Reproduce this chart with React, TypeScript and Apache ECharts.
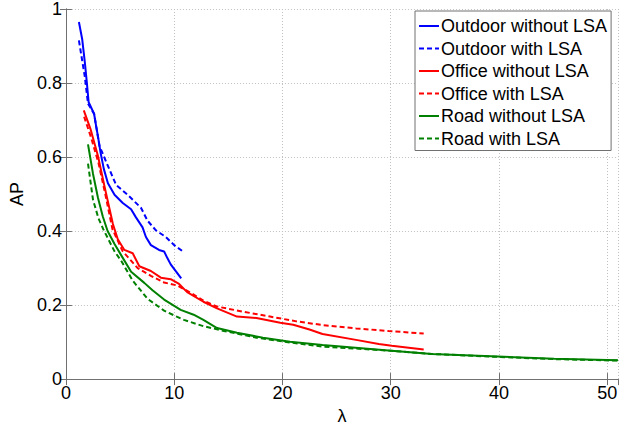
import React, { useEffect, useRef } from "react";
import * as echarts from "echarts";

const seriesNames = [
  "Outdoor without LSA",
  "Outdoor with LSA",
  "Office without LSA",
  "Office with LSA",
  "Road without LSA",
  "Road with LSA",
];

const outdoorWithout: [number, number][] = [
  [1.2, 0.965], [1.5, 0.919], [1.74, 0.858], [1.92, 0.805], [2.1, 0.748], [2.6, 0.717],
  [2.8, 0.682], [2.96, 0.656], [3.2, 0.612], [3.5, 0.568], [3.88, 0.529], [4.49, 0.498],
  [5.25, 0.476], [6.02, 0.459], [6.47, 0.437], [7.08, 0.41], [7.39, 0.384], [7.85, 0.362],
  [8.6, 0.349], [9.07, 0.345], [9.37, 0.327], [9.68, 0.31], [10.65, 0.272],
];

const outdoorWith: [number, number][] = [
  [1.2, 0.915], [1.74, 0.818], [2.04, 0.744], [2.6, 0.717], [3.1, 0.63], [3.73, 0.586],
  [4.65, 0.524], [5.7, 0.498], [6.93, 0.463], [7.54, 0.428], [8.31, 0.402], [9.23, 0.384],
  [10.0, 0.362], [10.8, 0.345],
];

const officeWithout: [number, number][] = [
  [1.65, 0.726], [2.29, 0.674], [2.96, 0.603], [3.57, 0.52], [4.34, 0.419], [4.79, 0.378],
  [5.4, 0.349], [6.17, 0.34], [6.78, 0.305], [7.85, 0.292], [8.77, 0.274], [9.68, 0.27],
  [10.45, 0.257], [11.2, 0.235], [12.7, 0.209], [13.96, 0.191], [15.8, 0.169], [17.6, 0.165],
  [19.8, 0.152], [21.0, 0.147], [22.5, 0.134], [23.7, 0.122], [26.8, 0.106], [28.9, 0.095],
  [30.1, 0.09], [33.05, 0.08],
];

const officeWith: [number, number][] = [
  [1.68, 0.709], [2.3, 0.655], [3.0, 0.585], [3.6, 0.505], [4.3, 0.405], [5.25, 0.345],
  [6.63, 0.3], [7.85, 0.279], [9.07, 0.261], [10.29, 0.253], [11.66, 0.231], [12.7, 0.212],
  [13.96, 0.196], [16.4, 0.182], [18.85, 0.169], [21.3, 0.156], [23.7, 0.146], [26.8, 0.137],
  [29.8, 0.13], [33.05, 0.123],
];

const roadWithout: [number, number][] = [
  [2.04, 0.634], [2.5, 0.555], [2.96, 0.49], [3.4, 0.44], [3.85, 0.4], [4.49, 0.365],
  [5.1, 0.335], [6.02, 0.29], [7.24, 0.26], [8.0, 0.24], [9.07, 0.215], [10.6, 0.187],
  [11.8, 0.174], [12.7, 0.16], [13.96, 0.138], [15.8, 0.125], [18.2, 0.112], [20.7, 0.101],
  [23.7, 0.092], [29.8, 0.077], [33.8, 0.068], [39.9, 0.061], [45.1, 0.055], [51, 0.051],
];

const roadWith: [number, number][] = [
  [2.04, 0.582], [2.5, 0.485], [3.0, 0.435], [3.45, 0.405], [4.49, 0.345], [5.1, 0.32],
  [6.17, 0.266], [7.54, 0.217], [9.07, 0.185], [10.29, 0.168], [10.9, 0.16], [12.7, 0.143],
  [14.6, 0.13], [17.6, 0.112], [20.7, 0.099], [23.7, 0.088], [29.8, 0.077], [33.8, 0.068],
  [39.9, 0.06], [45.1, 0.054], [51, 0.05],
];

const seriesData = [outdoorWithout, outdoorWith, officeWithout, officeWith, roadWithout, roadWith];
const seriesColors = ["#0000ff", "#0000ff", "#ff0000", "#ff0000", "#008000", "#008000"];
const seriesDashed = [false, true, false, true, false, true];

const FONT = "'Liberation Sans', Arial, sans-serif";
const AXIS_COLOR = "#707070";

export default function App() {
  const ref = useRef<HTMLDivElement>(null);
  useEffect(() => {
    if (!ref.current) return;
    const chart = echarts.init(ref.current, undefined, { renderer: "svg" });
    const commonAxis = {
      axisLine: { show: true, lineStyle: { color: AXIS_COLOR, width: 1 } },
      axisTick: { show: true, inside: true, length: 6, lineStyle: { color: AXIS_COLOR } },
    };
    chart.setOption({
      animation: false,
      backgroundColor: "#ffffff",
      grid: { left: 61, right: 14, top: 8, bottom: 41, containLabel: false },
      legend: {
        orient: "vertical",
        left: 415,
        top: 11,
        padding: [6, 4, 3, 3],
        itemWidth: 20,
        itemHeight: 14,
        itemGap: 4.5,
        backgroundColor: "#ffffff",
        borderColor: AXIS_COLOR,
        borderWidth: 1,
        borderRadius: 0,
        itemStyle: { opacity: 0 },
        textStyle: { fontSize: 18, fontFamily: FONT, color: "#000", padding: [0, 0, 0, -3] },
        data: seriesNames,
      },
      xAxis: [
        {
          type: "value",
          min: 0,
          max: 51,
          interval: 10,
          position: "bottom",
          name: "λ",
          nameLocation: "middle",
          nameGap: 23,
          nameTextStyle: { fontSize: 18, fontFamily: FONT, color: "#000" },
          ...commonAxis,
          axisLabel: {
            fontSize: 18,
            fontFamily: FONT,
            color: "#000",
            margin: 5,
            showMaxLabel: false,
            formatter: (v: number) => (v % 10 === 0 ? String(v) : ""),
          },
          splitLine: { show: true, lineStyle: { color: "#c0c0c0", type: [1, 2], width: 1 } },
        },
        {
          type: "value",
          min: 0,
          max: 51,
          interval: 10,
          position: "top",
          ...commonAxis,
          axisLabel: { show: false },
          splitLine: { show: false },
        },
      ],
      yAxis: [
        {
          type: "value",
          min: 0,
          max: 1,
          interval: 0.2,
          position: "left",
          name: "AP",
          nameLocation: "middle",
          nameGap: 30,
          nameTextStyle: { fontSize: 18, fontFamily: FONT, color: "#000" },
          ...commonAxis,
          axisLabel: { fontSize: 18, fontFamily: FONT, color: "#000", margin: 4 },
          splitLine: { show: true, lineStyle: { color: "#c0c0c0", type: [1, 2], width: 1 } },
        },
        {
          type: "value",
          min: 0,
          max: 1,
          interval: 0.2,
          position: "right",
          ...commonAxis,
          axisLabel: { show: false },
          splitLine: { show: false },
        },
      ],
      series: seriesNames.map((name, i) => ({
        name,
        type: "line",
        xAxisIndex: 0,
        yAxisIndex: 0,
        data: seriesData[i],
        showSymbol: false,
        symbol: "none",
        smooth: false,
        lineStyle: {
          color: seriesColors[i],
          width: 2,
          type: seriesDashed[i] ? [5, 3] : "solid",
        },
        itemStyle: { color: seriesColors[i] },
        emphasis: { disabled: true },
      })),
    });
    return () => chart.dispose();
  }, []);
  return (
    <div
      ref={ref}
      style={{ position: "fixed", left: 0, top: 0, width: 632, height: 430, background: "#fff" }}
    />
  );
}
